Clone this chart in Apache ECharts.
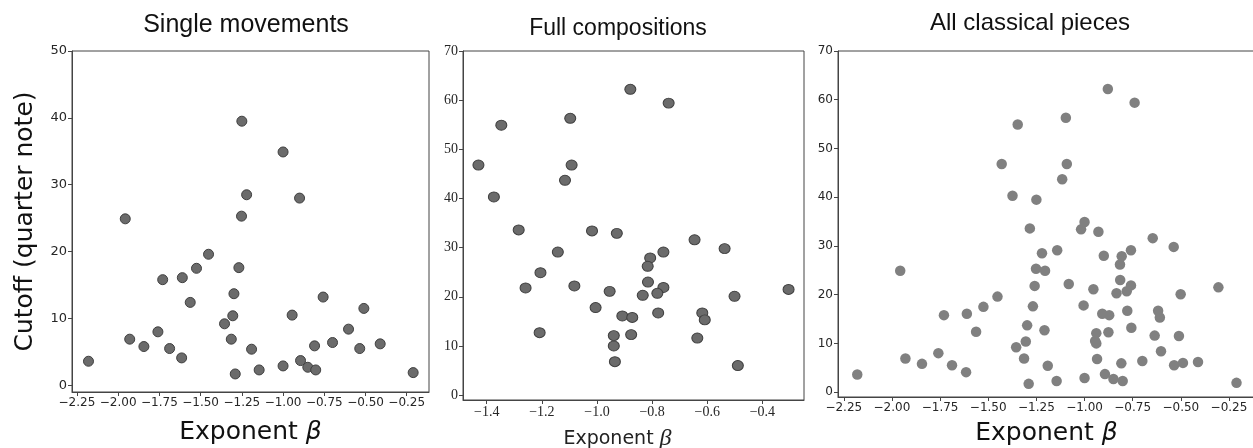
<!DOCTYPE html>
<html>
<head>
<meta charset="utf-8">
<script src="https://cdn.jsdelivr.net/npm/echarts@6/dist/echarts.min.js"></script>
<style>
html,body{margin:0;padding:0;background:#fff;}
#chart{width:1253px;height:448px;}
</style>
</head>
<body>
<div id="chart"></div>
<script>
// ---- data ----
const titles = ['Single movements', 'Full compositions', 'All classical pieces'];
const yName = 'Cutoff (quarter note)';

const singleX = [-2.18,-1.957,-1.93,-1.844,-1.759,-1.73,-1.688,-1.615,-1.611,-1.563,-1.525,-1.452,-1.25,-1.0,-1.221,-0.90,-1.252,-1.268,-1.298,-0.757,-1.305,-1.355,-0.945,-0.51,-0.603,-1.314,-1.191,-0.809,-0.70,-0.535,-0.411,-1.29,-1.145,-1.0,-0.894,-0.85,-0.802,-0.211];
const singleY = [3.6,24.9,6.9,5.8,8.0,15.8,5.5,4.1,16.1,12.4,17.5,19.6,39.5,34.9,28.5,28.0,25.3,17.6,13.7,13.2,10.4,9.2,10.5,11.5,8.4,6.9,5.4,5.9,6.4,5.5,6.2,1.7,2.3,2.9,3.7,2.7,2.3,1.9];

const fullX = [-1.43,-1.347,-1.374,-1.284,-1.142,-1.205,-1.259,-1.208,-1.097,-1.092,-1.116,-1.082,-1.018,-1.005,-0.954,-0.928,-0.908,-0.939,-0.939,-0.935,-0.879,-0.740,-0.646,-0.537,-0.759,-0.807,-0.816,-0.815,-0.759,-0.781,-0.834,-0.501,-0.305,-0.872,-0.778,-0.618,-0.609,-0.876,-0.636,-0.489];
const fullY = [46.8,54.9,40.3,33.6,29.1,24.9,21.8,12.7,56.3,46.8,43.7,22.2,33.4,17.8,21.1,32.9,16.1,12.1,10.0,6.8,62.2,59.4,31.6,29.8,29.1,27.9,26.2,23.0,21.9,20.7,20.3,20.1,21.5,15.8,16.7,16.7,15.3,12.3,11.6,6.0];

// tick values and labels
const xTicksA = [-2.25,-2.0,-1.75,-1.5,-1.25,-1.0,-0.75,-0.5,-0.25];
const xLabelsA = ['\u22122.25','\u22122.00','\u22121.75','\u22121.50','\u22121.25','\u22121.00','\u22120.75','\u22120.50','\u22120.25'];
const xTicksB = [-1.4,-1.2,-1.0,-0.8,-0.6,-0.4];
const xLabelsB = ['\u22121.4','\u22121.2','\u22121.0','\u22120.8','\u22120.6','\u22120.4'];
const yTicks50 = [0,10,20,30,40,50];
const yTicks70 = [0,10,20,30,40,50,60,70];

// ---- build ----
const pairs = (xs, ys) => xs.map((x, i) => [x, ys[i]]);
const singleData = pairs(singleX, singleY);
const fullData = pairs(fullX, fullY);
const allData = singleData.concat(fullData);

const labelFrom = (ticks, labels) => v => {
  const i = ticks.findIndex(t => Math.abs(t - v) < 1e-6);
  return i >= 0 ? labels[i] : '';
};

const axisCol = '#454545';
const sansTick = {fontFamily: 'DejaVu Sans', fontSize: 12, color: '#262626'};
const serifTick = {fontFamily: 'Liberation Serif', fontSize: 14, color: '#262626'};

function xAxis(idx, min, max, ticks, labels, tickStyle, name, nameStyle, gap) {
  return {
    type: 'value', gridIndex: idx, min, max,
    axisLine: {show: true, onZero: false, lineStyle: {color: axisCol, width: 1}},
    axisTick: {show: true, inside: false, length: 4, customValues: ticks, lineStyle: {color: axisCol}},
    axisLabel: Object.assign({margin: 5, customValues: ticks, formatter: labelFrom(ticks, labels)}, tickStyle),
    splitLine: {show: false},
    name, nameLocation: 'middle', nameGap: gap, nameTextStyle: nameStyle
  };
}
function yAxis(idx, min, max, ticks, tickStyle, extra) {
  return Object.assign({
    type: 'value', gridIndex: idx, min, max,
    axisLine: {show: true, onZero: false, lineStyle: {color: axisCol, width: 1}},
    axisTick: {show: true, inside: false, length: 4, customValues: ticks, lineStyle: {color: axisCol}},
    axisLabel: Object.assign({margin: 5, customValues: ticks, formatter: v => String(v)}, tickStyle),
    splitLine: {show: false}
  }, extra || {});
}

const bigName = {
  fontFamily: 'DejaVu Sans', fontSize: 25, color: '#111',
  rich: {b: {fontFamily: 'DejaVu Sans', fontStyle: 'italic', fontSize: 25, color: '#111'}}
};
const midName = {
  fontFamily: 'DejaVu Sans', fontSize: 19, color: '#222', padding: [0, 32, 0, 0],
  rich: {b: {fontFamily: 'Liberation Serif', fontStyle: 'italic', fontSize: 24, color: '#222'}}
};

const titleStyle = fs => ({fontFamily: 'Liberation Sans', fontSize: fs, fontWeight: 'normal', color: '#111'});
const gridBase = {show: true, borderColor: axisCol, borderWidth: 1, containLabel: false, outerBoundsMode: 'none'};

const option = {
  animation: false,
  backgroundColor: '#fff',
  title: [
    {text: titles[0], left: 241, top: 8, textAlign: 'center', textStyle: titleStyle(25)},
    {text: titles[1], left: 613, top: 12, textAlign: 'center', textStyle: titleStyle(23)},
    {text: titles[2], left: 1025, top: 6, textAlign: 'center', textStyle: titleStyle(24)}
  ],
  grid: [
    Object.assign({left: 72, top: 51, width: 357, height: 341}, gridBase),
    Object.assign({left: 463, top: 51, width: 341, height: 349}, gridBase),
    Object.assign({left: 838, top: 51, width: 417, height: 346}, gridBase)
  ],
  xAxis: [
    xAxis(0, -2.28, -0.115, xTicksA, xLabelsA, sansTick, 'Exponent {b|\u03B2}', bigName, 28),
    xAxis(1, -1.486, -0.249, xTicksB, xLabelsB, serifTick, 'Exponent {b|\u03B2}', midName, 27),
    xAxis(2, -2.28, -0.115, xTicksA, xLabelsA, sansTick, 'Exponent {b|\u03B2}', bigName, 24)
  ],
  yAxis: [
    yAxis(0, -1, 50, yTicks50, Object.assign({}, sansTick, {fontSize: 13}), {
      name: yName, nameLocation: 'middle', nameRotate: 90, nameGap: 34,
      nameTextStyle: {fontFamily: 'DejaVu Sans', fontSize: 25, color: '#111'}
    }),
    yAxis(1, -1, 70, yTicks70, serifTick),
    yAxis(2, -1, 70, yTicks70, sansTick)
  ],
  series: [
    {type: 'scatter', xAxisIndex: 0, yAxisIndex: 0, data: singleData, symbolSize: 10,
     itemStyle: {color: '#6b6b6b', borderColor: '#404040', borderWidth: 1, opacity: 1}},
    {type: 'scatter', xAxisIndex: 1, yAxisIndex: 1, data: fullData, symbolSize: [11, 10],
     itemStyle: {color: '#6b6b6b', borderColor: '#404040', borderWidth: 1, opacity: 1}},
    {type: 'scatter', xAxisIndex: 2, yAxisIndex: 2, data: allData, symbolSize: 10.5,
     itemStyle: {color: '#808080', opacity: 1}}
  ]
};

const chart = echarts.init(document.getElementById('chart'), null, {renderer: 'canvas'});
chart.setOption(option);
</script>
</body>
</html>
